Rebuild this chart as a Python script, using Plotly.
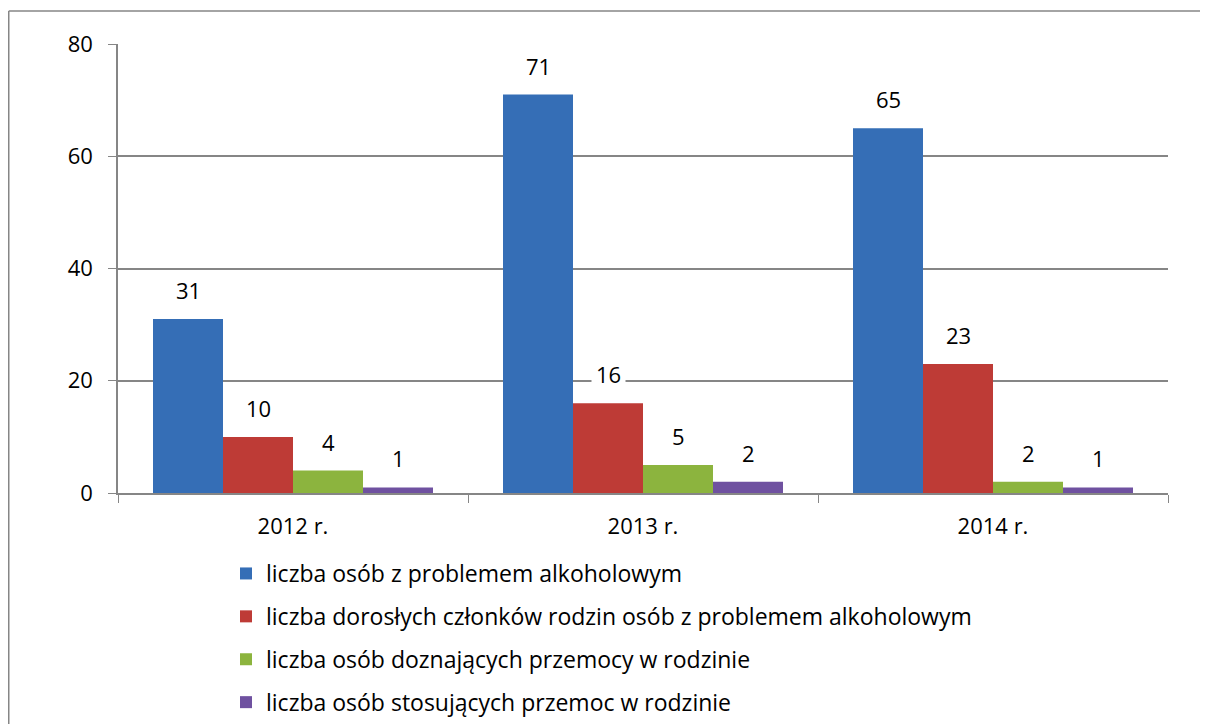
import plotly.graph_objects as go

categories = ["2012 r.", "2013 r.", "2014 r."]
series_names = [
    "liczba osób z problemem alkoholowym",
    "liczba dorosłych członków rodzin osób z problemem alkoholowym",
    "liczba osób doznających przemocy w rodzinie",
    "liczba osób stosujących przemoc w rodzinie",
]
alcohol = [31, 71, 65]
family = [10, 16, 23]
victims = [4, 5, 2]
perpetrators = [1, 2, 1]
colors = ["#356EB6", "#BE3B36", "#8CB43E", "#6F51A0"]

values = [alcohol, family, victims, perpetrators]
FONT = "Open Sans"
FS = 22
LEG_FS = 23

# figure sits 8px in from the page edge (body margin), so sizes compensate
W, H = 1200, 716
L, T, R = 110, 36, 40
PW = W - L - R          # 1050
PH = 449
B = H - T - PH

fig = go.Figure()
for i, (name, vals, col) in enumerate(zip(series_names, values, colors)):
    fig.add_trace(go.Bar(
        x=categories, y=vals, name=name,
        marker=dict(color=col, line=dict(width=0)),
        legendgroup=f"g{i}",
    ))

n = len(series_names)
for i, vals in enumerate(values):
    for j, v in enumerate(vals):
        xoff = (i - (n - 1) / 2) * 0.2
        fig.add_annotation(
            x=j + xoff, y=v, xref="x", yref="y",
            text=str(v), showarrow=False,
            yanchor="bottom", yshift=9, borderpad=4,
            bgcolor="white",
            font=dict(family=FONT, size=FS, color="#000000"),
        )

# outer chart border: only top and left edges are inside the window
bx0 = (0.75 - L) / PW
by1 = (T + PH - 3) / PH
fig.add_shape(type="line", xref="paper", yref="paper",
              x0=bx0, x1=(W - L) / PW, y0=by1, y1=by1,
              line=dict(color="#868686", width=1.5), layer="below")
fig.add_shape(type="line", xref="paper", yref="paper",
              x0=bx0, x1=bx0, y0=(T + PH - H) / PH, y1=by1,
              line=dict(color="#868686", width=1.5), layer="below")

fig.update_layout(
    width=W, height=H,
    margin=dict(l=L, r=R, t=T, b=B, autoexpand=False),
    paper_bgcolor="white", plot_bgcolor="white",
    barmode="group", bargap=0.2, bargroupgap=0,
    font=dict(family=FONT, size=FS, color="#000000"),
    showlegend=True,
    legend=dict(
        orientation="v", xref="container", yref="container",
        x=218 / W, y=1 - 544 / H,
        xanchor="left", yanchor="top",
        font=dict(family=FONT, size=LEG_FS, color="#000000"),
        tracegroupgap=10, itemwidth=30, bgcolor="rgba(0,0,0,0)",
    ),
)
fig.update_xaxes(
    type="category", showline=True, linecolor="#868686", linewidth=1.5,
    ticks="outside", tickson="boundaries", ticklen=8, tickcolor="#868686",
    tickfont=dict(family=FONT, size=FS, color="#000000"), showgrid=False,
    ticklabelstandoff=13,
)
fig.update_yaxes(
    range=[0, 80], dtick=20, showline=True, linecolor="#868686", linewidth=1.5,
    ticks="outside", ticklen=8, tickcolor="#868686",
    showgrid=True, gridcolor="#868686", gridwidth=1.5,
    tickfont=dict(family=FONT, size=FS, color="#000000"), ticklabelstandoff=11,
    zeroline=False,
)

fig.write_html("out.html")
